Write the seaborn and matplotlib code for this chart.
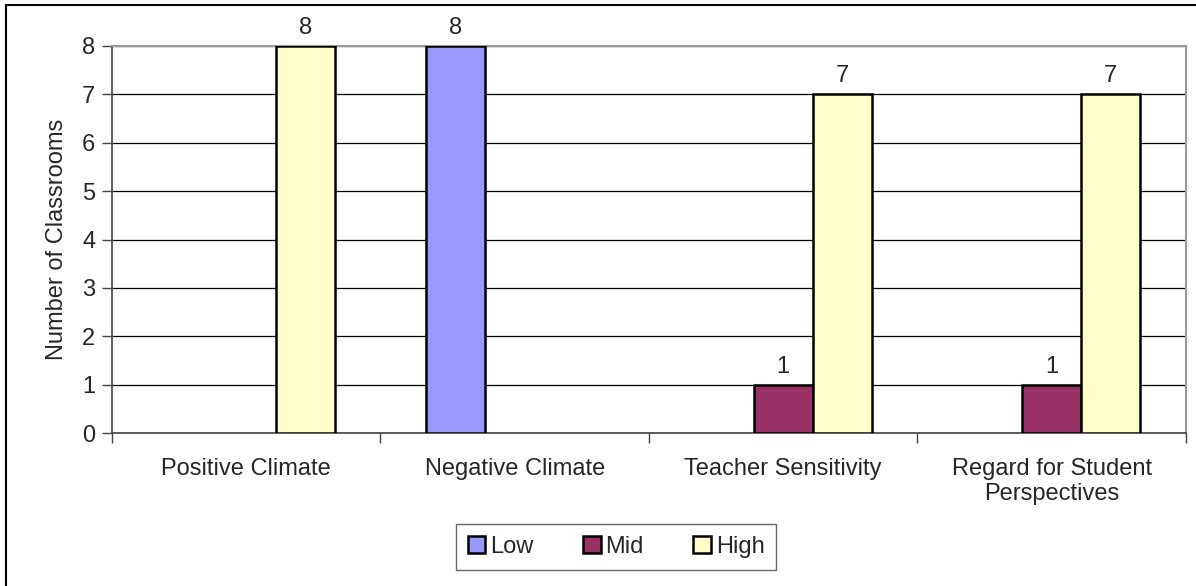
import matplotlib
matplotlib.use("Agg")
import matplotlib.pyplot as plt
import matplotlib.patches as mpatches
import seaborn as sns
import pandas as pd
import numpy as np

categories = ["Positive Climate", "Negative Climate", "Teacher Sensitivity",
              "Regard for Student\nPerspectives"]
levels = ["Low", "Mid", "High"]
low_values = [0, 8, 0, 0]
mid_values = [0, 0, 1, 1]
high_values = [8, 0, 7, 7]
colors = {"Low": "#9999FF", "Mid": "#993366", "High": "#FFFFCC"}

rows = []
for lvl, vals in zip(levels, [low_values, mid_values, high_values]):
    for c, v in zip(categories, vals):
        rows.append({"Category": c, "Level": lvl, "Count": v})
df = pd.DataFrame(rows)

sns.set_style("white")
plt.rcParams["font.family"] = ["Liberation Sans", "DejaVu Sans"]
FS = 17

fig = plt.figure(figsize=(11.96, 5.86), dpi=100)
ax = fig.add_axes([112/1196, 1 - 433/586, (1186-112)/1196, (433-46)/586])

sns.barplot(data=df, x="Category", y="Count", hue="Level", order=categories,
            hue_order=levels, palette=colors, saturation=1, width=0.66, dodge=True,
            edgecolor="black", linewidth=1.8, ax=ax, legend=True, zorder=3)

# hide zero-height bars (as in the reference)
for p in ax.patches:
    if abs(p.get_height()) < 1e-9:
        p.set_linewidth(0)

ax.set_ylim(0, 8)
ax.set_xlim(-0.5, 3.5)
ax.set_yticks(range(0, 9))
ax.yaxis.grid(True, color="black", linewidth=0.9, zorder=0)
ax.set_axisbelow(True)

for cont, vals in zip(ax.containers, [low_values, mid_values, high_values]):
    labels = [str(v) if v > 0 else "" for v in vals]
    ax.bar_label(cont, labels=labels, padding=5, fontsize=FS)

ax.set_xlabel("")
ax.set_ylabel("Number of Classrooms", fontsize=FS, labelpad=10)
ax.tick_params(axis="y", labelsize=FS, length=7, width=1, color="#444444", left=True, pad=5)
ax.tick_params(axis="x", which="major", labelsize=FS, length=0, pad=18)
ax.set_xticks([-0.5, 0.5, 1.5, 2.5, 3.5], minor=True)
ax.tick_params(axis="x", which="minor", length=7, width=1, color="#444444", bottom=True)

for side in ["left", "bottom"]:
    ax.spines[side].set_color("#444444")
    ax.spines[side].set_linewidth(1.2)
for side in ["top", "right"]:
    ax.spines[side].set_visible(True)
    ax.spines[side].set_color("#999999")
    ax.spines[side].set_linewidth(1.5)

handles = [mpatches.Patch(facecolor=colors[l], edgecolor="black", linewidth=1.8, label=l)
           for l in levels]
leg = fig.legend(handles=handles, loc="center", bbox_to_anchor=(616/1196, 1 - 547/586),
                 ncol=3, fontsize=FS, frameon=True, fancybox=False,
                 handlelength=0.75, handleheight=0.75, handletextpad=0.2,
                 columnspacing=2.1, borderpad=0.5)
leg.get_frame().set_edgecolor("#444444")
leg.get_frame().set_linewidth(1.0)
if ax.get_legend() is not None:
    ax.get_legend().remove()

border = mpatches.Rectangle((6/1196, -0.2), 1.2, 1.2 - 5/586,
                            transform=fig.transFigure, fill=False,
                            edgecolor="black", linewidth=1.5, clip_on=False)
fig.patches.append(border)

fig.savefig("out.png", dpi=100)
